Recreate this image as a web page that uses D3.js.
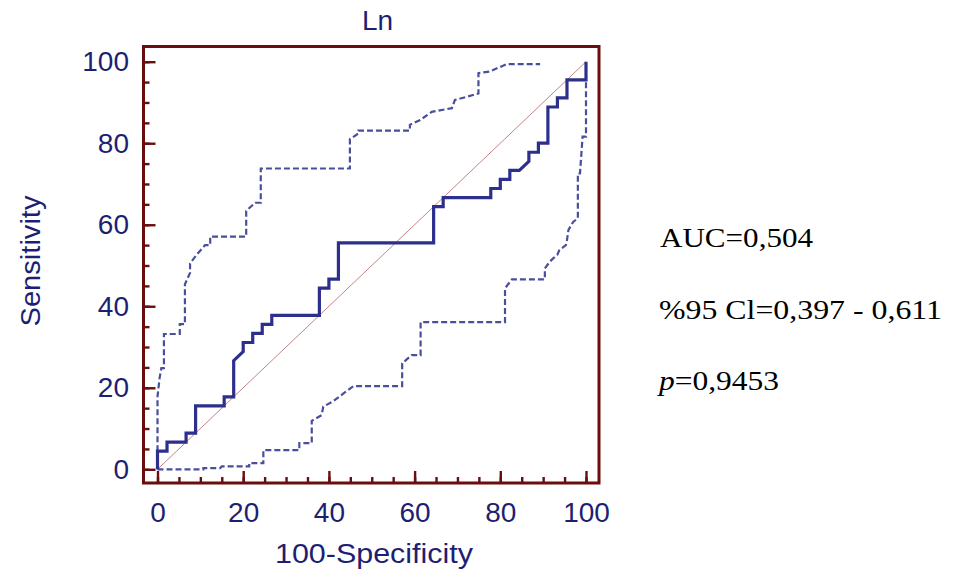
<!DOCTYPE html>
<html>
<head>
<meta charset="utf-8">
<script src="https://cdn.jsdelivr.net/npm/d3@7/dist/d3.min.js"></script>
<style>
  html, body { margin: 0; padding: 0; background: #ffffff; }
  svg { display: block; }
</style>
</head>
<body>
<svg id="chart" width="955" height="571"></svg>
<script>
// ROC curve for "Ln" with its 95% confidence bounds (100-Specificity, Sensitivity)
const rocX = [0, 0, 2.22, 2.22, 6.67, 6.67, 8.89, 8.89, 15.56, 15.56, 17.78, 17.78, 20, 20, 22.22, 22.22, 24.44, 24.44, 26.67, 26.67,
  37.78, 37.78, 40, 40, 42.22, 42.22, 64.44, 64.44, 66.67, 66.67, 77.78, 77.78, 80, 80, 82.22, 82.22, 84.44, 86.67, 86.67,
  88.89, 88.89, 91.11, 91.11, 93.33, 93.33, 95.56, 95.56, 100, 100];
const rocY = [0, 4.44, 4.44, 6.67, 6.67, 8.89, 8.89, 15.56, 15.56, 17.78, 17.78, 26.67, 28.89, 31.11, 31.11, 33.33, 33.33, 35.56, 35.56, 37.78,
  37.78, 44.44, 44.44, 46.67, 46.67, 55.56, 55.56, 64.44, 64.44, 66.67, 66.67, 68.89, 68.89, 71.11, 71.11, 73.33, 73.33, 75.56, 77.78,
  77.78, 80, 80, 88.89, 88.89, 91.11, 91.11, 95.56, 95.56, 100];

const upperX = [0, 0, 0.5, 0.9, 1.5, 1.5, 5.2, 5.2, 6.4, 6.4, 7.6, 7.6, 9.1, 11.1, 12.3, 12.3, 20.7, 20.7, 22.8, 24.1, 24.1,
  44.9, 44.9, 46.9, 46.9, 58.9, 58.9, 61.3, 64.0, 68.7, 69.4, 72.2, 74.9, 74.9, 77.6, 79.5, 81.5, 89.3];
const upperY = [0, 17.8, 22.5, 24.8, 24.8, 33.2, 33.2, 35.6, 35.6, 45.4, 48.2, 50.5, 52.6, 55.0, 55.0, 57.1, 57.1, 63.4, 65.4, 65.4, 73.8,
  73.8, 81.0, 82.4, 83.1, 83.1, 84.5, 85.7, 87.7, 88.6, 90.6, 91.4, 92.2, 97.2, 97.6, 98.5, 99.4, 99.4];

const lowerX = [0, 10.7, 10.7, 14.6, 15.0, 21.4, 21.4, 24.7, 24.7, 33.1, 33.1, 36.0, 36.0, 38.3, 38.7, 40.9, 43.4, 45.7, 57.1, 57.1,
  59.3, 61.4, 61.4, 81.1, 81.1, 82.7, 90.4, 90.4, 91.6, 92.4, 93.3, 93.8, 95.3, 95.5, 95.9, 97.0, 98.1, 98.1, 98.6, 99.2, 100, 100];
const lowerY = [0, 0, 0.3, 0.3, 0.7, 0.7, 1.5, 1.5, 4.7, 4.7, 6.4, 6.4, 11.9, 13.3, 15.4, 16.6, 18.6, 20.4, 20.4, 26.0,
  28.0, 28.0, 36.1, 36.1, 44.4, 46.6, 46.6, 49.3, 51.0, 51.8, 52.6, 53.8, 55.0, 55.8, 58.7, 60.7, 61.6, 72.6, 72.6, 81.6, 81.6, 95.1];

const majorTicks = [0, 20, 40, 60, 80, 100];
const minorTicks = d3.range(0, 101, 5);

const chartTitle = "Ln";
const xTitle = "100-Specificity";
const yTitle = "Sensitivity";
const statLines = ["AUC=0,504", "%95 Cl=0,397 - 0,611", "=0,9453"];

// --- layout ---
const frame = { left: 143.5, top: 46.5, right: 599, bottom: 483 };
const navy = "#1d1f72";
const maroon = "#6a0d0d";
const sans = "'Liberation Sans', Arial, sans-serif";
const serif = "'Liberation Serif', 'Times New Roman', serif";

const svg = d3.select("#chart");

const x = d3.scaleLinear().domain([0, 100]).range([157.5, 586]);
const y = d3.scaleLinear().domain([0, 100]).range([469.3, 61.7]);

// plot frame
svg.append("rect")
  .attr("x", frame.left).attr("y", frame.top)
  .attr("width", frame.right - frame.left).attr("height", frame.bottom - frame.top)
  .attr("fill", "none").attr("stroke", maroon).attr("stroke-width", 3);

// axes: ticks point inward from the frame
function styleAxis(g) {
  g.select(".domain").remove();
  g.selectAll(".tick line").attr("stroke", maroon).attr("stroke-width", 2.4);
  g.selectAll(".tick text").attr("fill", navy).attr("font-family", sans).attr("font-size", 28);
}

svg.append("g").attr("transform", `translate(0,${frame.bottom})`)
  .call(d3.axisBottom(x).tickValues(minorTicks).tickSize(-6).tickFormat(""))
  .call(styleAxis);
svg.append("g").attr("transform", `translate(0,${frame.bottom})`)
  .call(d3.axisBottom(x).tickValues(majorTicks).tickSize(-12).tickPadding(18.7).tickFormat(d3.format("d")))
  .call(styleAxis);

svg.append("g").attr("transform", `translate(${frame.left},0)`)
  .call(d3.axisLeft(y).tickValues(minorTicks).tickSize(-6).tickFormat(""))
  .call(styleAxis);
svg.append("g").attr("transform", `translate(${frame.left},0)`)
  .call(d3.axisLeft(y).tickValues(majorTicks).tickSize(-12).tickPadding(14.5).tickFormat(d3.format("d")))
  .call(styleAxis);

// reference diagonal
svg.append("line")
  .attr("x1", x(0)).attr("y1", y(0)).attr("x2", x(100)).attr("y2", y(100))
  .attr("stroke", "#c48484").attr("stroke-width", 1);

const line = d3.line().x(d => x(d[0])).y(d => y(d[1]));
const zip = (a, b) => a.map((v, i) => [v, b[i]]);

// confidence bounds
[zip(upperX, upperY), zip(lowerX, lowerY)].forEach(pts => {
  svg.append("path").attr("d", line(pts))
    .attr("fill", "none").attr("stroke", "#4a4f9c").attr("stroke-width", 2.2)
    .attr("stroke-dasharray", "6,3");
});

// ROC curve
svg.append("path").attr("d", line(zip(rocX, rocY)))
  .attr("fill", "none").attr("stroke", "#2c2f8c").attr("stroke-width", 3.2)
  .attr("stroke-linejoin", "miter");

// titles
svg.append("text").attr("x", 377.5).attr("y", 29.5).attr("text-anchor", "middle")
  .attr("font-family", sans).attr("font-size", 28).attr("fill", navy).text(chartTitle);

svg.append("text").attr("x", 374).attr("y", 562.5).attr("text-anchor", "middle")
  .attr("font-family", sans).attr("font-size", 27).attr("fill", navy)
  .attr("textLength", 198).attr("lengthAdjust", "spacingAndGlyphs").text(xTitle);

svg.append("text").attr("transform", "translate(39.5,261) rotate(-90)").attr("text-anchor", "middle")
  .attr("font-family", sans).attr("font-size", 27).attr("fill", navy)
  .attr("textLength", 131).attr("lengthAdjust", "spacingAndGlyphs").text(yTitle);

// statistics
const stats = svg.append("g").attr("font-family", serif).attr("font-size", 28).attr("fill", "#000");
stats.append("text").attr("x", 660).attr("y", 246.5)
  .attr("textLength", 153).attr("lengthAdjust", "spacingAndGlyphs").text(statLines[0]);
stats.append("text").attr("x", 659).attr("y", 318.5)
  .attr("textLength", 283).attr("lengthAdjust", "spacingAndGlyphs").text(statLines[1]);
const pLine = stats.append("text").attr("x", 659).attr("y", 389.5)
  .attr("textLength", 120).attr("lengthAdjust", "spacingAndGlyphs");
pLine.append("tspan").attr("font-style", "italic").text("p");
pLine.append("tspan").text(statLines[2]);
</script>
</body>
</html>
